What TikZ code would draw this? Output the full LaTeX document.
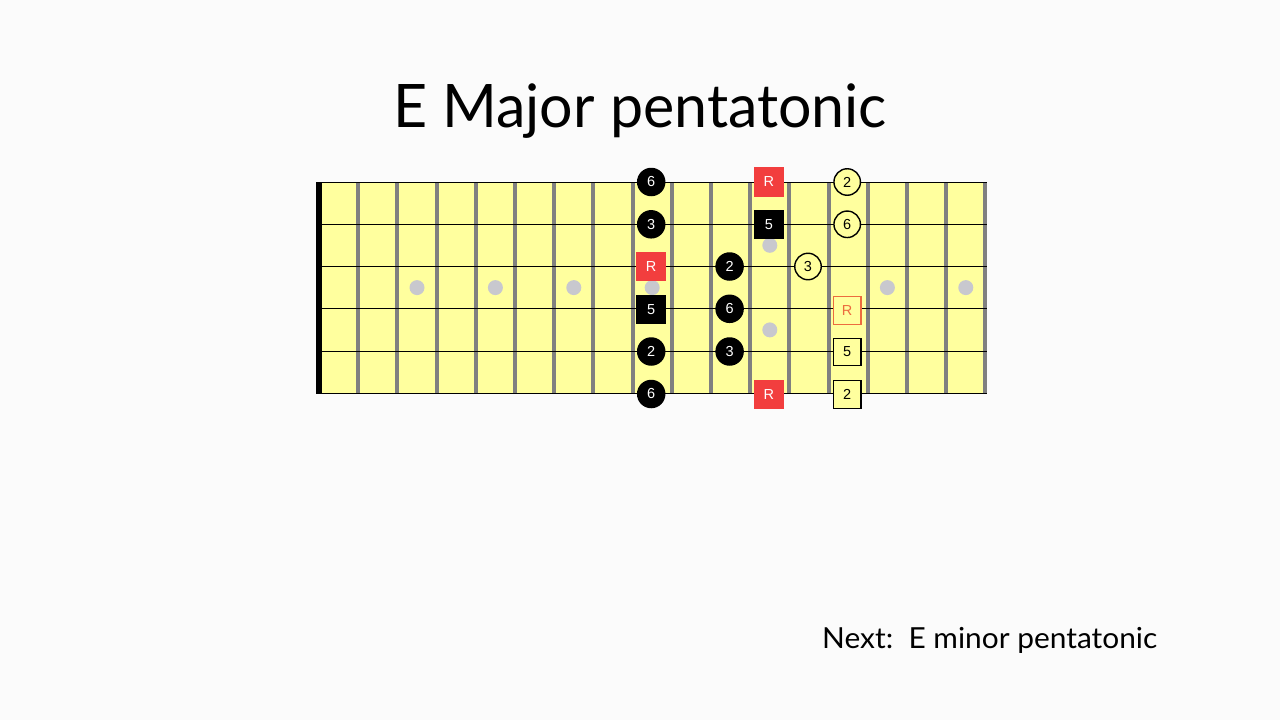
\documentclass[tikz,border=0pt]{standalone}
\usepackage{fontspec}
\setmainfont{Lato}
\newfontfamily\markfont{Liberation Sans}
\definecolor{bgc}{RGB}{251,251,251}
\definecolor{boardc}{RGB}{255,255,158}
\definecolor{fretc}{RGB}{128,128,128}
\definecolor{inlayc}{RGB}{200,200,206}
\definecolor{redc}{RGB}{242,62,62}
\definecolor{orangec}{RGB}{236,108,62}
\tikzset{
  mk/.style={inner sep=0pt, font=\markfont\fontsize{14.5}{14.5}\selectfont},
  blackdot/.style={mk, circle, fill=black, text=white, minimum size=28.5pt},
  blacksq/.style={mk, rectangle, fill=black, text=white, minimum size=29.5pt},
  redsq/.style={mk, rectangle, fill=redc, text=white, minimum size=29.5pt},
  opendot/.style={mk, circle, fill=boardc, draw=black, line width=1.4pt, text=black, minimum size=26.5pt},
  opensq/.style={mk, rectangle, fill=boardc, draw=black, line width=1.4pt, text=black, minimum size=27.5pt},
  openred/.style={mk, rectangle, fill=boardc, draw=orangec, line width=1.4pt, text=orangec, minimum size=27.5pt},
  inlay/.style={circle, fill=inlayc, inner sep=0pt, minimum size=15pt},
}
\begin{document}
\begin{tikzpicture}[x=1pt,y=-1pt]
\fill[bgc] (0,0) rectangle (1280,720);
\useasboundingbox (0,0) rectangle (1280,720);
% title
\node[anchor=base, font=\fontsize{60}{60}\selectfont, inner sep=0pt, xscale=0.985] (title) at (640,127) {E Major pentatonic};
% fretboard
\fill[boardc] (319,182) rectangle (987,393.3);
\foreach \k in {1,...,17} {
  \fill[fretc] ({319+39.2*\k-2},182) rectangle ({319+39.2*\k+2},393.3);
}
\foreach \s in {0,...,5} {
  \draw[black, line width=1pt] (319,{182+42.26*\s}) -- (987,{182+42.26*\s});
}
\fill[black] (316,181.5) rectangle (321.8,393.8);
% inlays
\foreach \f/\n in {3/i3,5/i5,7/i7,9/i9,15/i15,17/i17} {
  \node[inlay] (\n) at ({319+39.2*(\f-0.5)},287.6) {};
}
\node[inlay] (i12a) at ({319+39.2*11.5},245.3) {};
\node[inlay] (i12b) at ({319+39.2*11.5},329.9) {};
% markers (string 1 = top)
\node[blackdot] (s1f9)  at ({319+39.2*8.5-1},182) {6};
\node[redsq]    (s1f12) at ({319+39.2*11.5-1},182) {R};
\node[opendot]  (s1f14) at ({319+39.2*13.5-1},182) {2};
\node[blackdot] (s2f9)  at ({319+39.2*8.5-1},224.3) {3};
\node[blacksq]  (s2f12) at ({319+39.2*11.5-1},224.3) {5};
\node[opendot]  (s2f14) at ({319+39.2*13.5-1},224.3) {6};
\node[redsq]    (s3f9)  at ({319+39.2*8.5-1},266.5) {R};
\node[blackdot] (s3f11) at ({319+39.2*10.5-1},266.5) {2};
\node[opendot]  (s3f13) at ({319+39.2*12.5-1},266.5) {3};
\node[blacksq]  (s4f9)  at ({319+39.2*8.5-1},309.5) {5};
\node[blackdot] (s4f11) at ({319+39.2*10.5-1},308.8) {6};
\node[openred]  (s4f14) at ({319+39.2*13.5-1},310.5) {R};
\node[blackdot] (s5f9)  at ({319+39.2*8.5-1},351.5) {2};
\node[blackdot] (s5f11) at ({319+39.2*10.5-1},351.5) {3};
\node[opensq]   (s5f14) at ({319+39.2*13.5-1},352) {5};
\node[blackdot] (s6f9)  at ({319+39.2*8.5-1},394) {6};
\node[redsq]    (s6f12) at ({319+39.2*11.5-1},394.5) {R};
\node[opensq]   (s6f14) at ({319+39.2*13.5-1},394.5) {2};
% next
\node[anchor=base west, font=\fontsize{29}{29}\selectfont, inner sep=0pt, xscale=1.03] (next) at (822,648) {Next:\ \ E minor pentatonic};
\end{tikzpicture}
\end{document}
